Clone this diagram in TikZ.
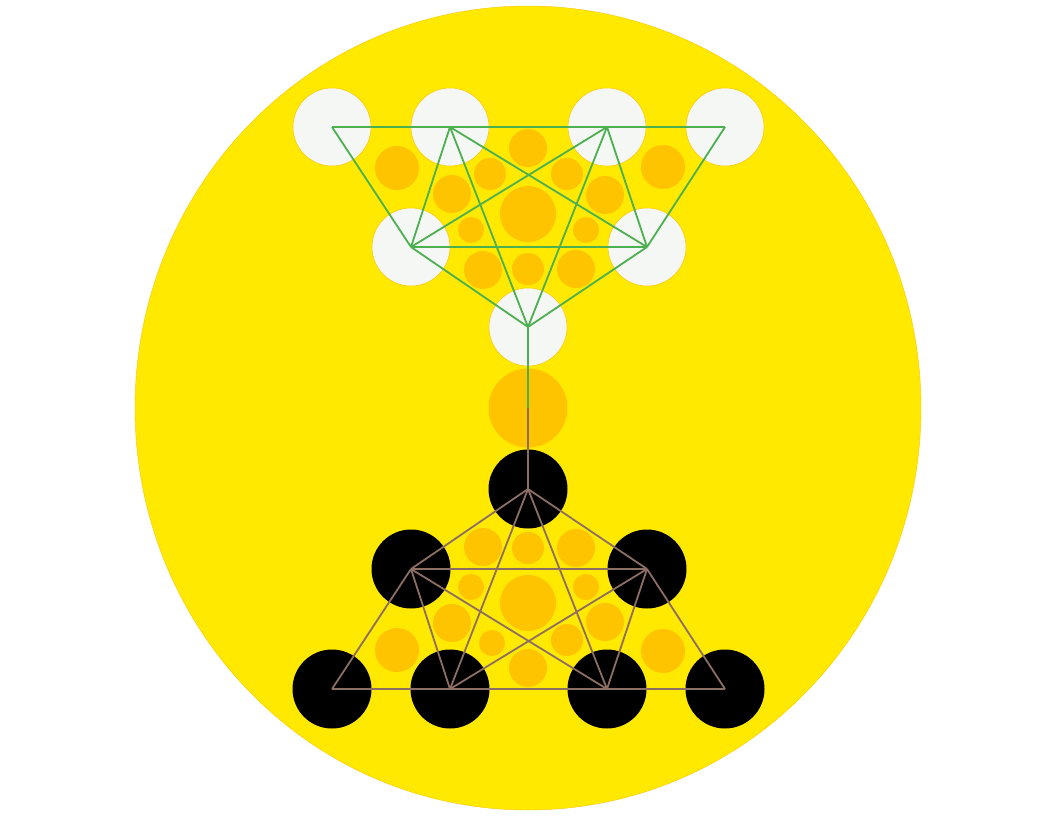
\documentclass[tikz,border=0pt]{standalone}
\usepackage[dvipsnames]{xcolor}
\definecolor{sunyellow}{HTML}{FFE900}
\definecolor{amber}{HTML}{FFC400}
\definecolor{leafgreen}{HTML}{4CAF50}
\definecolor{barkbrown}{HTML}{8D6E63}
\definecolor{paleball}{HTML}{F5F7F5}

\begin{document}
\begin{tikzpicture}[x=1pt,y=-1pt,white node/.style={circle,inner sep=0pt,minimum size=78pt,fill=paleball,draw=amber,line width=0.5pt},black node/.style={circle,inner sep=0pt,minimum size=79pt,fill=black},amber dot/.style={circle,inner sep=0pt,minimum size=#1,fill=amber}]
                \useasboundingbox (0,0) rectangle (1056,816);
                \fill[sunyellow,draw=amber,line width=0.4pt] (528,408) ellipse [x radius=393, y radius=402];

                % small amber discs, upper triangle
                \node[amber dot=44pt] (o1) at (397,168) {};
                \node[amber dot=38pt] (o2) at (528,148) {};
                \node[amber dot=32pt] (o3) at (490,174) {};
                \node[amber dot=32pt] (o4) at (567,174) {};
                \node[amber dot=38pt] (o5) at (452,194) {};
                \node[amber dot=38pt] (o6) at (605,195) {};
                \node[amber dot=56pt] (o7) at (528,214) {};
                \node[amber dot=44pt] (o8) at (663,167) {};
                \node[amber dot=26pt] (o9) at (471,230) {};
                \node[amber dot=26pt] (o10) at (586,230) {};
                \node[amber dot=38pt] (o11) at (483,270) {};
                \node[amber dot=32pt] (o12) at (528,269) {};
                \node[amber dot=38pt] (o13) at (576,269) {};
                % centre disc
                \node[amber dot=79pt] (mid) at (528,408) {};
                % small amber discs, lower triangle
                \node[amber dot=38pt] (u1) at (483,547) {};
                \node[amber dot=32pt] (u2) at (528,548) {};
                \node[amber dot=38pt] (u3) at (576,548) {};
                \node[amber dot=26pt] (u4) at (471,587) {};
                \node[amber dot=26pt] (u5) at (586,587) {};
                \node[amber dot=56pt] (u6) at (528,603) {};
                \node[amber dot=38pt] (u7) at (452,623) {};
                \node[amber dot=38pt] (u8) at (605,622) {};
                \node[amber dot=44pt] (u9) at (397,650) {};
                \node[amber dot=44pt] (u10) at (663,651) {};
                \node[amber dot=26pt] (u11) at (492,643) {};
                \node[amber dot=32pt] (u12) at (567,640) {};
                \node[amber dot=38pt] (u13) at (528,668) {};

                \node[white node] (w1) at (332,127) {};
                \node[white node] (w2) at (450,127) {};
                \node[white node] (w3) at (607,127) {};
                \node[white node] (w4) at (725,127) {};
                \node[white node] (w5) at (411,247) {};
                \node[white node] (w6) at (647,247) {};
                \node[white node] (w7) at (528,327) {};

                \node[black node] (b1) at (528,489) {};
                \node[black node] (b2) at (411,569) {};
                \node[black node] (b3) at (647,569) {};
                \node[black node] (b4) at (332,689) {};
                \node[black node] (b5) at (450,689) {};
                \node[black node] (b6) at (607,689) {};
                \node[black node] (b7) at (725,689) {};

                \path[every edge/.style={draw=leafgreen,line width=1.8pt}]
                    (w1.center) edge (w4.center)
                    (w1.center) edge (w5.center)
                    (w4.center) edge (w6.center)
                    (w5.center) edge (w6.center)
                    (w5.center) edge (w7.center)
                    (w6.center) edge (w7.center)
                    (w2.center) edge (w5.center)
                    (w2.center) edge (w7.center)
                    (w2.center) edge (w6.center)
                    (w3.center) edge (w5.center)
                    (w3.center) edge (w7.center)
                    (w3.center) edge (w6.center)
                    (w7.center) edge (mid.center)
                ;
                \path[every edge/.style={draw=barkbrown,line width=1.8pt}]
                    (mid.center) edge (b1.center)
                    (b4.center) edge (b7.center)
                    (b4.center) edge (b2.center)
                    (b7.center) edge (b3.center)
                    (b2.center) edge (b3.center)
                    (b2.center) edge (b1.center)
                    (b3.center) edge (b1.center)
                    (b5.center) edge (b2.center)
                    (b5.center) edge (b1.center)
                    (b5.center) edge (b3.center)
                    (b6.center) edge (b2.center)
                    (b6.center) edge (b1.center)
                    (b6.center) edge (b3.center)
                ;
            \end{tikzpicture}
\end{document}
